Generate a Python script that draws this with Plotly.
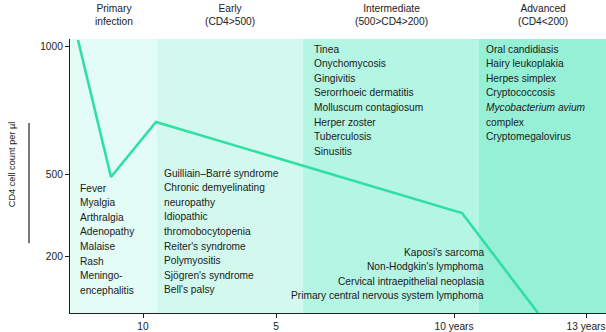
import plotly.graph_objects as go

# ---- data (schematic axis units) ----
line_x = [8, 41, 86, 392, 468]
line_y = [273, 136, 191, 100, 0]

x_tickvals = [73, 206, 384, 516]
x_ticktext = ["10", "5", "10 years", "13 years"]
y_tickvals = [57, 139, 267]
y_ticktext = ["200", "500", "1000"]

stage_edges = [0, 87, 233, 409, 536]
stage_names = ["Primary<br>infection", "Early<br>(CD4>500)",
               "Intermediate<br>(500>CD4>200)", "Advanced<br>(CD4<200)"]
stage_colors = ["#e3fcf5", "#d3f9ee", "#b5f5e3", "#95f0d6"]

primary_list = ["Fever", "Myalgia", "Arthralgia", "Adenopathy", "Malaise",
                "Rash", "Meningo-", "encephalitis"]
early_list = ["Guilliain\u2013Barr\u00e9 syndrome", "Chronic demyelinating",
              "neuropathy", "Idiopathic", "thromobocytopenia",
              "Reiter's syndrome", "Polymyositis", "Sj\u00f6gren's syndrome",
              "Bell's palsy"]
intermediate_list = ["Tinea", "Onychomycosis", "Gingivitis",
                     "Serorrhoeic dermatitis", "Molluscum contagiosum",
                     "Herper zoster", "Tuberculosis", "Sinusitis"]
advanced_list = ["Oral candidiasis", "Hairy leukoplakia", "Herpes simplex",
                 "Cryptococcosis", "<i>Mycobacterium avium</i>", "complex",
                 "Cryptomegalovirus"]
late_list = ["Kaposi's sarcoma", "Non-Hodgkin's lymphoma",
             "Cervical intraepithelial neoplasia",
             "Primary central nervous system lymphoma"]

FONT = "Liberation Sans Narrow, Arial Narrow, Liberation Sans, Arial, sans-serif"
FS = 10.2
TXT = "#1a1a1a"

fig = go.Figure()
fig.add_trace(go.Scatter(x=line_x, y=line_y, mode="lines",
                         line=dict(color="#2ee0a4", width=2.6),
                         hoverinfo="skip", showlegend=False))

shapes = []
for i in range(4):
    shapes.append(dict(type="rect", xref="x", yref="paper",
                       x0=stage_edges[i], x1=stage_edges[i + 1], y0=0, y1=1,
                       fillcolor=stage_colors[i], line=dict(width=0),
                       layer="below"))
shapes.append(dict(type="line", xref="paper", yref="paper",
                   x0=-0.0765, x1=-0.0765, y0=0.255, y1=0.693,
                   line=dict(color="#222", width=1.2)))

ann = []
for i in range(4):
    ann.append(dict(x=(stage_edges[i] + stage_edges[i + 1]) / 2, xref="x",
                    y=1.036, yref="paper", yanchor="bottom", xanchor="center",
                    text=stage_names[i], showarrow=False,
                    font=dict(family=FONT, size=FS, color="#222")))

def add_list(items, x0, ytop, anchor="left"):
    for k, t in enumerate(items):
        ann.append(dict(x=x0, y=ytop - k * 14.6, xref="x", yref="y",
                        xanchor=anchor, yanchor="middle", text=t,
                        showarrow=False,
                        font=dict(family=FONT, size=FS, color=TXT)))

add_list(primary_list, 8, 125)
add_list(early_list, 92, 140)
add_list(intermediate_list, 242, 264)
add_list(advanced_list, 414, 264)
add_list(late_list, 416, 61, anchor="right")

ann.append(dict(x=-0.108, y=0.54, xref="paper", yref="paper",
                text="CD4 cell count per \u00b5l", textangle=-90,
                showarrow=False, xanchor="center", yanchor="middle",
                font=dict(family=FONT, size=9.2, color="#222")))

fig.update_layout(
    width=606, height=332,
    margin=dict(l=70, r=0, t=39, b=19),
    plot_bgcolor="white", paper_bgcolor="white",
    shapes=shapes, annotations=ann, showlegend=False,
    xaxis=dict(range=[0, 536], tickvals=x_tickvals, ticktext=x_ticktext,
               ticks="outside", ticklen=4, tickcolor="#222",
               showline=True, linecolor="#222", linewidth=1.2,
               showgrid=False, zeroline=False, ticklabeloverflow="allow",
               tickfont=dict(family=FONT, size=FS, color="#222")),
    yaxis=dict(range=[0, 274], tickvals=y_tickvals, ticktext=y_ticktext,
               ticks="outside", ticklen=4, tickcolor="#222",
               showline=True, linecolor="#222", linewidth=1.2,
               showgrid=False, zeroline=False,
               tickfont=dict(family=FONT, size=FS, color="#222")),
)

fig.write_html("out.html")
